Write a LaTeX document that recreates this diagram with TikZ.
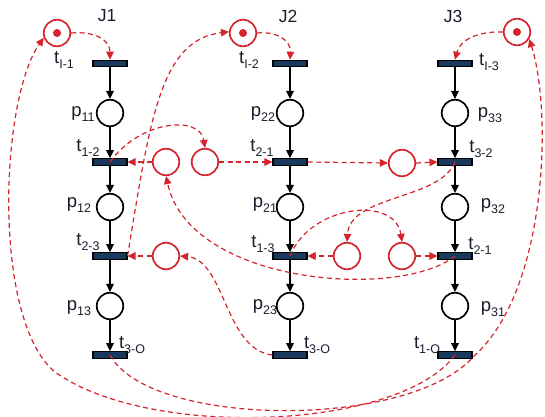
\documentclass[tikz,border=0pt]{standalone}
\usepackage{fontspec}
\setmainfont{Liberation Sans}
\usetikzlibrary{arrows.meta}
\definecolor{rd}{RGB}{212,36,44}
\definecolor{navy}{RGB}{24,56,92}
\definecolor{txt}{RGB}{25,30,45}
\newcommand{\lb}[2]{#1\raisebox{-0.28em}{\fontsize{12.5}{12.5}\selectfont #2}}
\tikzset{
  place/.style={circle, draw=black, line width=1.7pt, minimum size=26.5pt, inner sep=0pt},
  rplace/.style={circle, draw=rd, line width=1.7pt, minimum size=26.5pt, inner sep=0pt},
  trans/.style={rectangle, draw=black, fill=navy, line width=1.1pt, minimum width=34pt, minimum height=6.5pt, inner sep=0pt},
  flow/.style={line width=1.7pt, -{Triangle[length=8pt,width=7.5pt]}},
  res/.style={draw=rd, line width=1.2pt, dash pattern=on 5pt off 3.5pt, -{Triangle[length=8pt,width=7.5pt]}, fill=none},
  lbl/.style={font=\fontsize{18.5}{18.5}\selectfont, text=txt, inner sep=0pt},
  jl/.style={font=\fontsize{17.5}{17.5}\selectfont, text=txt, inner sep=0pt}
}
\begin{document}
\begin{tikzpicture}[x=1pt,y=-1pt]
\useasboundingbox (0,0) rectangle (545,416);
\fill[white] (0,0) rectangle (545,416);
% start places
\node[rplace] (S1) at (57,33) {};
\node[rplace] (S2) at (243,33) {};
\node[rplace] (S3) at (517,32) {};
\foreach \s in {S1,S2,S3} \fill[rd] (\s) circle (4pt);
% J1 column
\node[trans] (a0) at (110,63.5) {};
\node[place] (a1) at (110,113) {};
\node[trans] (a2) at (110,162) {};
\node[place] (a3) at (110,207) {};
\node[trans] (a4) at (110,256) {};
\node[place] (a5) at (110,306) {};
\node[trans] (a6) at (110,355) {};
% J2 column
\node[trans] (b0) at (290,63.5) {};
\node[place] (b1) at (290,113) {};
\node[trans] (b2) at (290,162) {};
\node[place] (b3) at (290,207) {};
\node[trans] (b4) at (290,256) {};
\node[place] (b5) at (290,306) {};
\node[trans] (b6) at (290,355) {};
% J3 column
\node[trans] (c0) at (455,63.5) {};
\node[place] (c1) at (455,113) {};
\node[trans] (c2) at (455,162) {};
\node[place] (c3) at (455,207) {};
\node[trans] (c4) at (455,256) {};
\node[place] (c5) at (455,306) {};
\node[trans] (c6) at (455,355) {};
% resource places
\node[rplace] (R1) at (166,162) {};
\node[rplace] (R2) at (205,162) {};
\node[rplace] (R3) at (402,163) {};
\node[rplace] (R4) at (347,256) {};
\node[rplace] (R5) at (402,256) {};
\node[rplace] (R6) at (166,256) {};
% black flow arrows
\foreach \c in {a,b,c}{
  \draw[flow] (\c0.south) -- (\c1.north);
  \draw[flow] (\c1.south) -- (\c2.north);
  \draw[flow] (\c2.south) -- (\c3.north);
  \draw[flow] (\c3.south) -- (\c4.north);
  \draw[flow] (\c4.south) -- (\c5.north);
  \draw[flow] (\c5.south) -- (\c6.north);
}
% labels
\node[jl] (J1) at (107,16) {J1};
\node[jl] (J2) at (288,16) {J2};
\node[jl] (J3) at (453,16) {J3};
\node[lbl] (la0) at (64,60) {\lb{t}{I-1}};
\node[lbl] (lb0) at (249,60) {\lb{t}{I-2}};
\node[lbl] (lc0) at (489,62) {\lb{t}{I-3}};
\node[lbl] (la1) at (83,114) {\lb{p}{11}};
\node[lbl] (lb1) at (263,114) {\lb{p}{22}};
\node[lbl] (lc1) at (490,115) {\lb{p}{33}};
\node[lbl] (la2) at (88,148) {\lb{t}{1-2}};
\node[lbl] (lb2) at (262,148) {\lb{t}{2-1}};
\node[lbl] (lc2) at (481,149) {\lb{t}{3-2}};
\node[lbl] (la3) at (79,205) {\lb{p}{12}};
\node[lbl] (lb3) at (265,205) {\lb{p}{21}};
\node[lbl] (lc3) at (493,206) {\lb{p}{32}};
\node[lbl] (la4) at (88,242) {\lb{t}{2-3}};
\node[lbl] (lb4) at (263,244) {\lb{t}{1-3}};
\node[lbl] (lc4) at (480,246) {\lb{t}{2-1}};
\node[lbl] (la5) at (79,308) {\lb{p}{13}};
\node[lbl] (lb5) at (265,307) {\lb{p}{23}};
\node[lbl] (lc5) at (493,309) {\lb{p}{31}};
\node[lbl] (la6) at (132,345) {\lb{t}{3-O}};
\node[lbl] (lb6) at (317,345) {\lb{t}{3-O}};
\node[lbl] (lc6) at (427,345) {\lb{t}{1-O}};
% straight resource arcs
\draw[res] (R1.west) -- (a2.east);
\draw[res] (R2.east) -- (b2.west);
\draw[res] (b2.east) -- (R3.west);
\draw[res] (R3.east) -- (c2.west);
\draw[res] (R6.west) -- (a4.east);
\draw[res] (R4.west) -- (b4.east);
\draw[res] (R5.east) -- (c4.west);
% start arcs
\draw[res] (S1.east) .. controls (95,31) and (110,40) .. (a0.north);
\draw[res] (S2.east) .. controls (276,31) and (291,40) .. (b0.north);
\draw[res] (S3.west) .. controls (478,31) and (460,40) .. (c0.north);
% curved resource arcs
\draw[res] (a4.east) .. controls (150,120) and (160,40) .. (S2.175);
\draw[res] (a2.center) .. controls (140,120) and (200,115) .. (R2.north);
\draw[res] (c4.center) .. controls (400,300) and (190,285) .. (R1.south);
\draw[res] (b6.west) .. controls (225,350) and (225,260) .. (R6.east);
\draw[res] (c2.center) .. controls (440,200) and (350,195) .. (R4.north);
\draw[res] (b4.center) .. controls (310,205) and (395,195) .. (R5.north);
% long return arcs
\coordinate (m1) at (474,356);
\coordinate (m2) at (55,372);
\draw[res] (a6.center) .. controls (150,428) and (410,430) .. (m1) .. controls (548,290) and (552,110) .. (S3.-30);
\draw[res] (c6.center) .. controls (400,430) and (150,440) .. (m2) .. controls (-8,320) and (0,100) .. (S1.200);
\end{tikzpicture}
\end{document}
